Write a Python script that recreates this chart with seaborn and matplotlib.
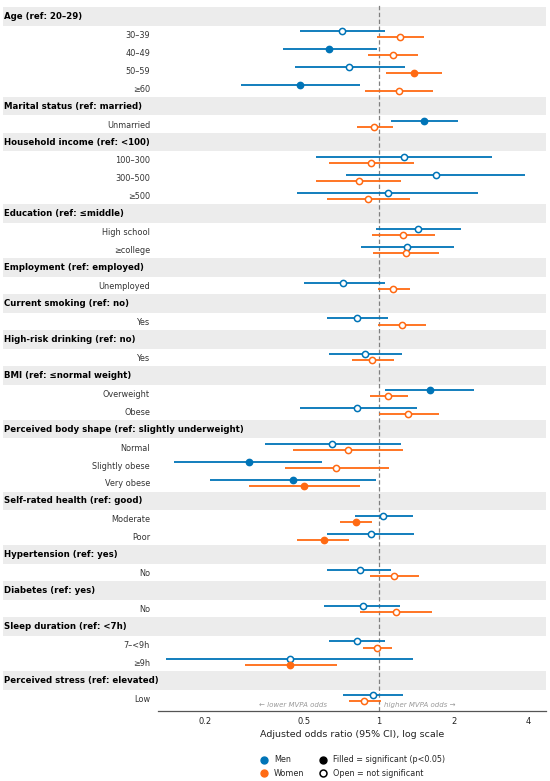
import numpy as np
import pandas as pd
import seaborn as sns
import matplotlib.pyplot as plt
from matplotlib.lines import Line2D
from matplotlib.ticker import NullLocator


#### Datos ####

groups = ["Age (ref: 20–29)", "Marital status (ref: married)",
          "Household income (ref: <100)", "Education (ref: ≤middle)",
          "Employment (ref: employed)", "Current smoking (ref: no)",
          "High-risk drinking (ref: no)", "BMI (ref: ≤normal weight)",
          "Perceived body shape (ref: slightly underweight)",
          "Self-rated health (ref: good)", "Hypertension (ref: yes)",
          "Diabetes (ref: yes)", "Sleep duration (ref: <7h)",
          "Perceived stress (ref: elevated)"]
group_sizes = [4, 1, 3, 2, 1, 1, 1, 2, 3, 2, 1, 1, 2, 1]

items = ["30–39", "40–49", "50–59", "≥60", "Unmarried",
         "100–300", "300–500", "≥500", "High school", "≥college",
         "Unemployed", "Yes", "Yes", "Overweight", "Obese",
         "Normal", "Slightly obese", "Very obese", "Moderate", "Poor",
         "No", "No", "7–<9h", "≥9h", "Low"]

men_or = [0.71, 0.63, 0.76, 0.48, 1.52, 1.26, 1.69, 1.09, 1.44, 1.30,
          0.72, 0.82, 0.88, 1.60, 0.82, 0.65, 0.30, 0.45, 1.04, 0.93,
          0.84, 0.86, 0.82, 0.44, 0.95]
men_lo = [0.48, 0.41, 0.46, 0.28, 1.12, 0.56, 0.74, 0.47, 0.97, 0.85,
          0.50, 0.62, 0.63, 1.06, 0.48, 0.35, 0.15, 0.21, 0.80, 0.62,
          0.62, 0.60, 0.63, 0.14, 0.72]
men_hi = [1.06, 0.98, 1.27, 0.84, 2.08, 2.85, 3.88, 2.51, 2.14, 2.00,
          1.06, 1.09, 1.24, 2.41, 1.42, 1.23, 0.59, 0.97, 1.37, 1.38,
          1.12, 1.22, 1.06, 1.37, 1.25]
men_sig = [0, 1, 0, 1, 1, 0, 0, 0, 0, 0, 0, 0, 0, 1, 0, 0, 1, 1, 0, 0,
           0, 0, 0, 0, 0]

women_or = [1.22, 1.14, 1.38, 1.20, 0.96, 0.93, 0.83, 0.90, 1.25, 1.29,
            1.14, 1.24, 0.94, 1.09, 1.31, 0.75, 0.67, 0.50, 0.81, 0.60,
            1.15, 1.17, 0.98, 0.44, 0.87]
women_lo = [0.98, 0.90, 1.07, 0.88, 0.82, 0.63, 0.56, 0.62, 0.94, 0.95,
            0.99, 0.99, 0.78, 0.92, 1.00, 0.45, 0.42, 0.30, 0.70, 0.47,
            0.92, 0.84, 0.86, 0.29, 0.76]
women_hi = [1.52, 1.44, 1.79, 1.65, 1.14, 1.38, 1.23, 1.33, 1.68, 1.74,
            1.33, 1.55, 1.15, 1.31, 1.74, 1.25, 1.10, 0.84, 0.94, 0.76,
            1.45, 1.63, 1.13, 0.68, 1.02]
women_sig = [0, 0, 1, 0, 0, 0, 0, 0, 0, 0, 0, 0, 0, 0, 0, 0, 0, 1, 1, 1,
             0, 0, 0, 1, 0]

xticks = [0.2, 0.5, 1, 2, 4]
xtick_labels = ["0.2", "0.5", "1", "2", "4"]

colors = {"Men": "#0074B7", "Women": "#FF6A13"}


#### Posiciones de filas ####

header_pos = []
item_pos = []
r = 0
for size in group_sizes:
    header_pos.append(r)
    item_pos += list(range(r + 1, r + 1 + size))
    r += size + 1
n_rows = r

off = 0.17
rows = []
for i, y in enumerate(item_pos):
    rows.append(dict(y=y - off, OR=men_or[i], lo=men_lo[i], hi=men_hi[i],
                     sex="Men", sig=bool(men_sig[i])))
    rows.append(dict(y=y + off, OR=women_or[i], lo=women_lo[i], hi=women_hi[i],
                     sex="Women", sig=bool(women_sig[i])))
df = pd.DataFrame(rows)


#### Gráfico ####

sns.set_theme(style="white")
plt.rcParams['font.family'] = ['DejaVu Sans']

fig = plt.figure(figsize=(5.5, 7.81), dpi=100)
ax = fig.add_axes([0.288, 0.0896, 0.705, 0.905])

# Bandas grises para los encabezados
for g, y in zip(groups, header_pos):
    ax.axhspan(y - 0.52, y + 0.52, xmin=-0.4, xmax=1, color="#ececec",
               lw=0, zorder=0, clip_on=False)
    ax.text(-0.398, y, g, transform=ax.get_yaxis_transform(), ha="left",
            va="center", fontsize=6.2, fontweight="bold", color="black")

ax.axvline(1, color="#808080", lw=0.9, dashes=(3.5, 2), zorder=1)

# Intervalos de confianza
for sex, d in df.groupby("sex"):
    ax.hlines(d["y"], d["lo"], d["hi"], color=colors[sex], lw=1.3, zorder=2)

# Puntos: rellenos = significativos, abiertos = no significativos
for sex in ["Men", "Women"]:
    d = df[df["sex"] == sex]
    sns.scatterplot(data=d[d["sig"]], x="OR", y="y", color=colors[sex],
                    edgecolor=colors[sex], s=20, linewidth=1.1, zorder=3,
                    ax=ax, legend=False)
    sns.scatterplot(data=d[~d["sig"]], x="OR", y="y", color="white",
                    edgecolor=colors[sex], s=20, linewidth=1.1, zorder=3,
                    ax=ax, legend=False)

ax.set_xscale("log")
ax.set_xlim(0.13, 4.7)
ax.set_ylim(n_rows - 1 + 0.71, -0.68)
ax.set_xticks(xticks)
ax.set_xticklabels(xtick_labels)
ax.xaxis.set_minor_locator(NullLocator())
ax.set_yticks(item_pos)
ax.set_yticklabels(items)
ax.tick_params(axis="y", length=0, pad=6, labelsize=5.9, labelcolor="#333333")
ax.tick_params(axis="x", length=0, pad=4, labelsize=6, labelcolor="#222222")
ax.set_xlabel("Adjusted odds ratio (95% CI), log scale", fontsize=6.8,
              labelpad=3, color="#222222")
ax.set_ylabel("")

sns.despine(ax=ax, left=True, top=True, right=True)
ax.spines["bottom"].set_color("#555555")
ax.spines["bottom"].set_linewidth(0.9)

# Anotaciones de dirección
ax.text(0.62, 0.009, "← lower MVPA odds", transform=ax.get_xaxis_transform(),
        ha="right", va="center", fontsize=5, style="italic", color="#999999")
ax.text(1.05, 0.009, "higher MVPA odds →", transform=ax.get_xaxis_transform(),
        ha="left", va="center", fontsize=5, style="italic", color="#999999")

# Leyenda
handles = [
    Line2D([], [], ls="none", marker="o", ms=5, color=colors["Men"], label="Men"),
    Line2D([], [], ls="none", marker="o", ms=5, color=colors["Women"], label="Women"),
    Line2D([], [], ls="none", marker="o", ms=5, color="black",
           label="Filled = significant (p<0.05)"),
    Line2D([], [], ls="none", marker="o", ms=5, mfc="white", mec="black",
           mew=1.1, label="Open = not significant"),
]
ax.legend(handles=handles, loc="center", bbox_to_anchor=(0.5, -0.0785),
          ncol=2, frameon=False, fontsize=5.8, handlelength=1.2,
          handletextpad=0.6, columnspacing=1.8, labelspacing=0.5)

plt.savefig("out.png", dpi=100)
